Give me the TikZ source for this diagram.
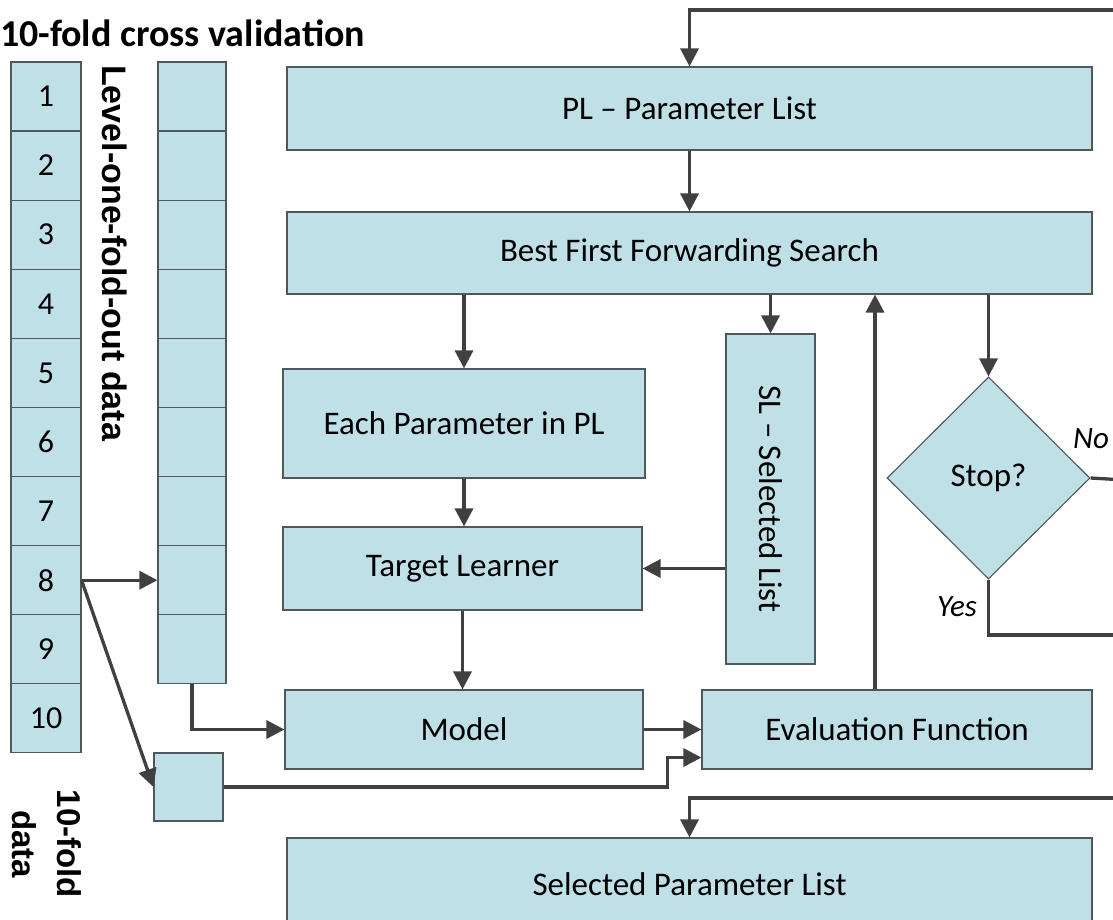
\documentclass[tikz,border=0pt]{standalone}
\usepackage{fontspec}
\setmainfont{Carlito}
\newfontfamily\arialfont{Liberation Sans}
\usetikzlibrary{arrows.meta,shapes.geometric}

\definecolor{cellblue}{RGB}{192,224,232}
\definecolor{rimgray}{RGB}{80,88,92}
\definecolor{wiregray}{RGB}{64,64,64}

\tikzset{
  box/.style={draw=rimgray,fill=cellblue,line width=1.1pt,inner sep=0pt,
    font=\fontsize{33}{39}\selectfont},
  cell/.style={box,minimum width=70pt,minimum height=69pt,
    font=\fontsize{32}{38}\selectfont},
  wire/.style={draw=wiregray,line width=3.3pt},
  feed/.style={wire,-{Triangle[length=18pt,width=18pt]}},
  tag/.style={anchor=base west,inner sep=0pt,
    font=\itshape\fontsize{31}{36}\selectfont}
}

\begin{document}
\begin{tikzpicture}[x=1pt,y=-1pt]
  \useasboundingbox (0,0) rectangle (1113,920);

  % folds on the left
  \node[anchor=base west,inner sep=0pt,font=\bfseries\fontsize{38}{45}\selectfont]
    (title) at (0,47) {10-fold cross validation};
  \foreach \i in {1,...,10}
    \node[cell] (fold\i) at (46,{96.5+69.1*(\i-1)}) {\i};
  \foreach \i in {1,...,9}
    \node[cell,minimum width=68pt] (lvl\i) at (192,{96.5+69.1*(\i-1)}) {};
  \node[cell,minimum width=69pt,minimum height=68pt] (test) at (188.5,787) {};
  \node[rotate=-90,anchor=base west,inner sep=0pt,
    font=\arialfont\bfseries\fontsize{34}{40}\selectfont]
    (lvltext) at (102,65) {Level-one-fold-out data};
  \node[rotate=-90,align=center,inner sep=0pt,
    font=\arialfont\bfseries\fontsize{33}{45}\selectfont]
    (foldtext) at (46.5,844) {10-fold\\data};

  % search loop
  \node[box,minimum width=805pt,minimum height=83pt] (plist) at (689.5,108.5)
    {PL -- Parameter List};
  \node[box,minimum width=805pt,minimum height=82pt] (search) at (689.5,253)
    {Best First Forwarding Search};
  \node[box,minimum width=362pt,minimum height=109pt] (each) at (464,423.5)
    {Each Parameter in PL};
  \node[box,minimum width=359pt,minimum height=83pt] (learner) at (462.5,568.5)
    {Target Learner};
  \node[box,minimum width=89pt,minimum height=330pt] (slist) at (770.5,499) {};
  \node[rotate=-90,inner sep=0pt,font=\fontsize{33}{39}\selectfont]
    (sltext) at (slist) {SL -- Selected List};
  \node[box,minimum width=358pt,minimum height=79pt] (model) at (464,729.5)
    {Model};
  \node[box,minimum width=390pt,minimum height=79pt] (evalf) at (897,729.5)
    {Evaluation Function};
  \node[box,diamond,minimum width=203pt,minimum height=202pt] (stop)
    at (988.5,478) {Stop?};
  \node[box,minimum width=805pt,minimum height=92pt] (chosen) at (689.5,884)
    {Selected Parameter List};

  \coordinate (loopin) at (1125,10);
  \coordinate (noout) at (1125,480);
  \coordinate (yesout) at (1125,635);
  \coordinate (finalin) at (1125,798);

  \draw[feed] (loopin) -| (plist.north);
  \draw[feed] (plist.south) -- (search.north);
  \draw[feed] (each.north |- search.south) -- (each.north);
  \draw[feed] (slist.north |- search.south) -- (slist.north);
  \draw[feed] (stop.north |- search.south) -- (stop.north);
  \draw[feed] (each.south) -- (each.south |- learner.north);
  \draw[feed] (slist.west |- learner.east) -- (learner.east);
  \draw[feed] (learner.south) -- (learner.south |- model.north);
  \draw[feed] (model.east) -- (evalf.west);
  \draw[feed] ([xshift=-22pt]evalf.north) -- ([xshift=-22pt]evalf.north |- search.south);
  \draw[wire] (stop.east) -- (noout);
  \draw[wire] (stop.south) |- (yesout);
  \node[tag] (notext) at (1073,448) {No};
  \node[tag] (yestext) at (937,616) {Yes};

  \draw[feed] (fold8.east) -- (lvl8.west);
  \draw[feed] (fold8.east) -- (test.west);
  \draw[feed] (lvl9.south) |- (model.west);
  \draw[feed] (test.east) -- ++(444,0) |- ([yshift=12pt]evalf.south west);
  \draw[feed] (finalin) -| (chosen.north);
\end{tikzpicture}
\end{document}
